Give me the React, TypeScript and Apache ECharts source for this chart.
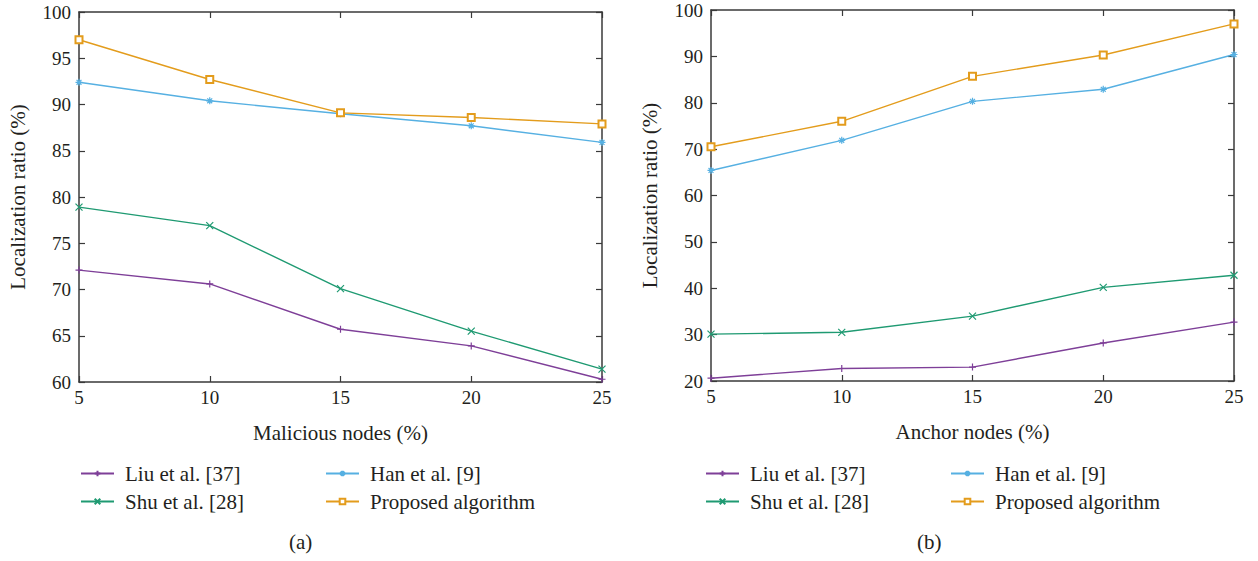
import React, { useEffect, useRef } from "react";
import * as echarts from "echarts";

const xValues = [5, 10, 15, 20, 25];
const seriesNames = ["Liu et al. [37]", "Shu et al. [28]", "Han et al. [9]", "Proposed algorithm"];

// Panel (a): Malicious nodes
const aLiu = [72.1, 70.6, 65.7, 63.9, 60.3];
const aShu = [78.9, 76.9, 70.1, 65.5, 61.4];
const aHan = [92.4, 90.4, 89.0, 87.7, 85.9];
const aProposed = [97.0, 92.7, 89.1, 88.6, 87.9];

// Panel (b): Anchor nodes
const bLiu = [20.6, 22.7, 23.0, 28.2, 32.7];
const bShu = [30.1, 30.5, 34.0, 40.2, 42.8];
const bHan = [65.4, 71.9, 80.3, 82.9, 90.4];
const bProposed = [70.5, 76.0, 85.7, 90.3, 97.0];

const colors = ["#7e3f98", "#1f9a72", "#56b0e2", "#e39c1c"];
const symbols = [
  "path://M5,0L5,10M0,5L10,5",
  "path://M0,0L10,10M0,10L10,0",
  "path://M5,0L5,10M0,5L10,5M1.5,1.5L8.5,8.5M1.5,8.5L8.5,1.5",
  "emptyRect",
];

const FONT = "Liberation Serif";
const AXIS_COLOR = "#3a3a3a";
const TEXT_COLOR = "#231f20";

export default function App() {
  const ref = useRef<HTMLDivElement>(null);
  useEffect(() => {
    if (!ref.current) return;
    const chart = echarts.init(ref.current, undefined, { renderer: "svg" });

    const grids = [
      { left: 79, top: 12, width: 523, height: 370 },
      { left: 711, top: 10, width: 523, height: 371 },
    ];

    const xAxisBase = (gridIndex: number, position: string, showLabel: boolean, name: string) => ({
      type: "value",
      gridIndex,
      position,
      min: 5,
      max: 25,
      interval: 5,
      name,
      nameLocation: "middle",
      nameGap: 40,
      nameTextStyle: { fontFamily: FONT, fontSize: 21, color: TEXT_COLOR },
      axisLine: { show: true, lineStyle: { color: AXIS_COLOR, width: 1.5 } },
      axisTick: { show: true, inside: true, length: 6, lineStyle: { color: AXIS_COLOR, width: 1.2 } },
      axisLabel: { show: showLabel, fontFamily: FONT, fontSize: 19, color: TEXT_COLOR, margin: 6 },
      splitLine: { show: false },
    });

    const yAxisBase = (
      gridIndex: number,
      position: string,
      showLabel: boolean,
      min: number,
      max: number,
      interval: number,
      name: string
    ) => ({
      type: "value",
      gridIndex,
      position,
      min,
      max,
      interval,
      name,
      nameLocation: "middle",
      nameGap: 51,
      nameTextStyle: { fontFamily: FONT, fontSize: 21, color: TEXT_COLOR },
      axisLine: { show: true, lineStyle: { color: AXIS_COLOR, width: 1.5 } },
      axisTick: { show: true, inside: true, length: 6, lineStyle: { color: AXIS_COLOR, width: 1.2 } },
      axisLabel: { show: showLabel, fontFamily: FONT, fontSize: 19, color: TEXT_COLOR, margin: 8 },
      splitLine: { show: false },
    });

    const xAxis = [
      xAxisBase(0, "bottom", true, "Malicious nodes (%)"),
      xAxisBase(0, "top", false, ""),
      xAxisBase(1, "bottom", true, "Anchor nodes (%)"),
      xAxisBase(1, "top", false, ""),
    ];
    const yAxis = [
      yAxisBase(0, "left", true, 60, 100, 5, "Localization ratio (%)"),
      yAxisBase(0, "right", false, 60, 100, 5, ""),
      yAxisBase(1, "left", true, 20, 100, 10, "Localization ratio (%)"),
      yAxisBase(1, "right", false, 20, 100, 10, ""),
    ];

    const panelData = [
      [aLiu, aShu, aHan, aProposed],
      [bLiu, bShu, bHan, bProposed],
    ];

    const series: any[] = [];
    panelData.forEach((panel, p) => {
      panel.forEach((vals, i) => {
        series.push({
          type: "line",
          name: seriesNames[i],
          xAxisIndex: p * 2,
          yAxisIndex: p * 2,
          data: xValues.map((x, k) => [x, vals[k]]),
          symbol: symbols[i],
          symbolSize: 7,
          showSymbol: true,
          lineStyle: { color: colors[i], width: 1.4 },
          itemStyle: {
            color: colors[i],
            borderColor: colors[i],
            borderWidth: 1.2,
          },
          emphasis: { disabled: true },
        });
      });
    });

    const legendBase = (left: number, data: string[]) => ({
      left,
      top: 458,
      orient: "vertical",
      data,
      itemWidth: 33,
      itemHeight: 7,
      itemGap: 7,
      selectedMode: false,
      textStyle: {
        fontFamily: FONT,
        fontSize: 21,
        color: TEXT_COLOR,
        padding: [0, 0, 0, 6],
      },
    });

    chart.setOption({
      animation: false,
      backgroundColor: "#ffffff",
      grid: grids,
      xAxis,
      yAxis,
      series,
      legend: [
        legendBase(75, [seriesNames[0], seriesNames[1]]),
        legendBase(320, [seriesNames[2], seriesNames[3]]),
        legendBase(700, [seriesNames[0], seriesNames[1]]),
        legendBase(945, [seriesNames[2], seriesNames[3]]),
      ],
      graphic: [
        {
          type: "text",
          left: 289,
          top: 531,
          style: { text: "(a)", fontFamily: FONT, fontSize: 21, fill: TEXT_COLOR },
        },
        {
          type: "text",
          left: 917,
          top: 531,
          style: { text: "(b)", fontFamily: FONT, fontSize: 21, fill: TEXT_COLOR },
        },
      ],
    });

    return () => chart.dispose();
  }, []);

  return (
    <div
      ref={ref}
      style={{ position: "fixed", left: 0, top: 0, width: 1258, height: 561, background: "#fff" }}
    />
  );
}
